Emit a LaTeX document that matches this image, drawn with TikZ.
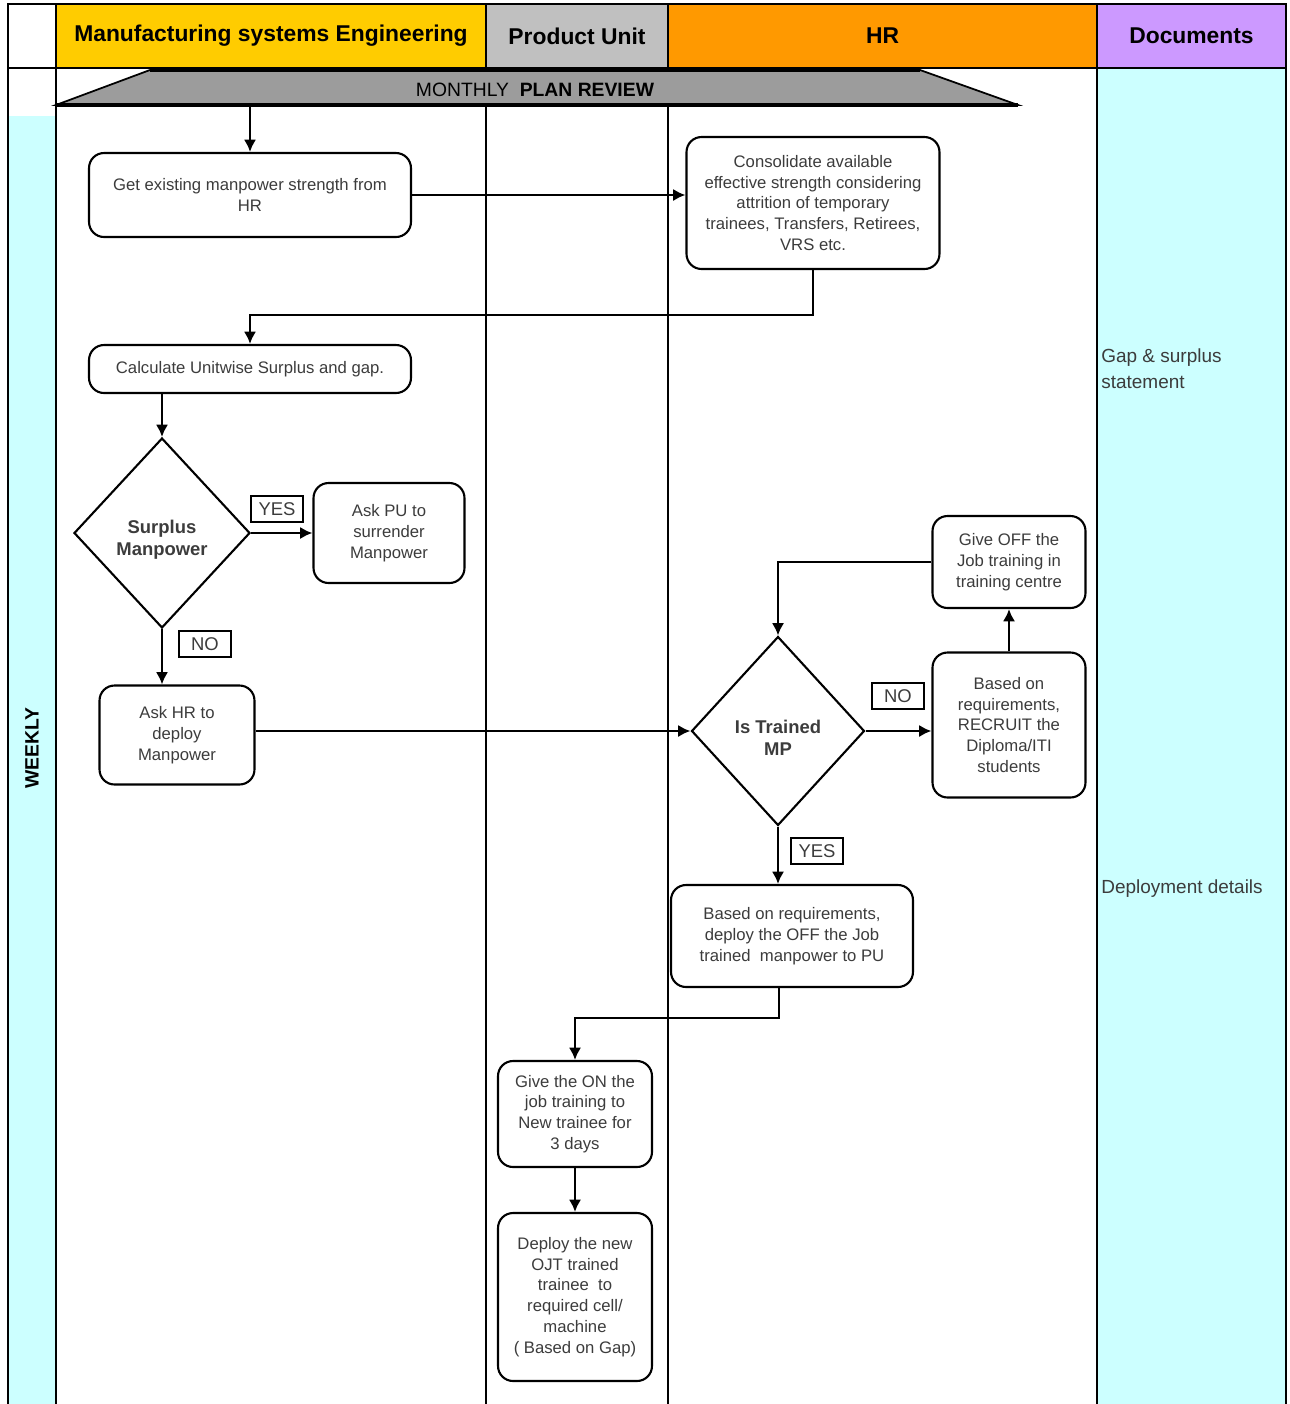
\documentclass[tikz,border=0pt]{standalone}
\usepackage{fontspec}
\setmainfont{Liberation Sans}
\usetikzlibrary{arrows.meta,positioning,shapes.geometric}
\definecolor{mseyellow}{HTML}{FFCC00}
\definecolor{pugrey}{HTML}{C0C0C0}
\definecolor{hrorange}{HTML}{FF9900}
\definecolor{docviolet}{HTML}{CC99FF}
\definecolor{laneCyan}{HTML}{CCFFFF}
\definecolor{bannergrey}{HTML}{9C9C9C}
\definecolor{boxtext}{HTML}{3C3C3C}
\tikzset{
  lanehead/.style={draw, line width=0.8pt, inner sep=0pt, font=\fontsize{13}{15}\selectfont\bfseries},
  procbox/.style={draw, line width=1.2pt, rounded corners=0.3cm, fill=white, align=center,
    inner sep=0pt, text=boxtext, font=\fontsize{9.5}{11.8}\selectfont},
  decision/.style={draw, diamond, line width=1.2pt, fill=white, align=center, inner sep=0pt,
    text=boxtext, font=\fontsize{10.5}{12.5}\selectfont\bfseries},
  answer/.style={draw, line width=1pt, fill=white, inner sep=0pt, minimum width=1.04cm,
    minimum height=0.52cm, text=boxtext, font=\fontsize{10.5}{12}\selectfont},
  doctext/.style={anchor=north west, align=left, inner sep=0pt, text=boxtext,
    font=\fontsize{10.8}{14.8}\selectfont},
  flow/.style={-{Latex[length=7pt,width=7pt]}, line width=1.4pt},
  lane/.style={line width=1pt},
}
\begin{document}
\begin{tikzpicture}[x=0.02cm, y=-0.02cm]
  \useasboundingbox (0,0) rectangle (1290,1404);

  % lanes and header
  \fill[laneCyan] (8,116) rectangle (56,1404);
  \fill[laneCyan] (1097,68) rectangle (1286,1404);
  \draw[lanehead, fill=white] (8,4) rectangle (56,68);
  \draw[lanehead, fill=mseyellow] (56,4) rectangle node {Manufacturing systems Engineering} (486,68);
  \draw[lanehead, fill=pugrey] (486,4) rectangle node {Product Unit} (668,68);
  \draw[lanehead, fill=hrorange] (668,4) rectangle node {HR} (1097,68);
  \draw[lanehead, fill=docviolet] (1097,4) rectangle node {Documents} (1286,68);
  \draw[lane] (8,68) -- (8,1404);
  \draw[lane] (56,68) -- (56,1404);
  \draw[lane] (486,68) -- (486,1404);
  \draw[lane] (668,68) -- (668,1404);
  \draw[lane] (1097,68) -- (1097,1404);
  \draw[lane] (1286,68) -- (1286,1404);
  \node[rotate=90, font=\fontsize{11}{13}\selectfont\bfseries] (weekly) at (32,748) {WEEKLY};

  % banner
  \draw[fill=bannergrey, line width=1pt] (150,70) -- (920,70) -- (1018,105) -- (56,105) -- cycle;
  \draw[line width=2pt] (150,70) -- (920,70) (56,105) -- (1018,105);
  \node[font=\fontsize{11}{13}\selectfont] (review) at (535,90) {MONTHLY\ \ \textbf{PLAN REVIEW}};
  \coordinate (reviewout) at (250,105);

  % process nodes
  \node[procbox, minimum width=6.44cm, minimum height=1.68cm] (gethr) at (250,195)
    {Get existing manpower strength from\\HR};
  \node[procbox, minimum width=5.06cm, minimum height=2.64cm] (consol) at (813,203)
    {Consolidate available\\effective strength considering\\attrition of temporary\\trainees, Transfers, Retirees,\\VRS etc.};
  \node[procbox, minimum width=6.44cm, minimum height=0.96cm] (calc) at (250,369)
    {Calculate Unitwise Surplus and gap.};
  \node[decision, minimum width=3.52cm, minimum height=3.8cm] (surplus) at (162,533)
    {\rule{0pt}{15pt}Surplus\\Manpower};
  \node[procbox, minimum width=3.02cm, minimum height=2cm] (askpu) at (389,533)
    {Ask PU to\\surrender\\Manpower};
  \node[procbox, minimum width=3.1cm, minimum height=1.98cm] (askhr) at (177,735)
    {Ask HR to\\deploy\\Manpower};
  \node[decision, minimum width=3.46cm, minimum height=3.78cm] (trained) at (778,731)
    {\rule{0pt}{15pt}Is Trained\\MP};
  \node[procbox, minimum width=3.06cm, minimum height=2.9cm] (recruit) at (1009,725)
    {Based on\\requirements,\\RECRUIT the\\Diploma/ITI\\students};
  \node[procbox, minimum width=3.06cm, minimum height=1.84cm] (giveoff) at (1009,562)
    {Give OFF the\\Job training in\\training centre};
  \node[procbox, minimum width=4.84cm, minimum height=2.04cm] (deploypu) at (792,936)
    {Based on requirements,\\deploy the OFF the Job\\trained\ \ manpower to PU};
  \node[procbox, minimum width=3.08cm, minimum height=2.12cm] (giveon) at (575,1114)
    {Give the ON the\\job training to\\New trainee for\\3 days};
  \node[procbox, minimum width=3.08cm, minimum height=3.36cm] (deployojt) at (575,1297)
    {Deploy the new\\OJT trained\\trainee\ \ to\\required cell/\\machine\\( Based on Gap)};

  % answers
  \node[answer] (yes1) at (277,509) {YES};
  \node[answer] (no1) at (205,644) {NO};
  \node[answer] (no2) at (898,696) {NO};
  \node[answer] (yes2) at (817,851) {YES};

  % documents
  \node[doctext] (gapdoc) at (1101,348) {Gap \& surplus\\statement};
  \node[doctext] (deploydoc) at (1101,879) {Deployment details};

  % connectors
  \coordinate (gapjoin) at (813,315);
  \coordinate (ojtjoin) at (779,1018);
  \draw[flow] (reviewout) -- (gethr.north);
  \draw[flow] (gethr.east) -- (gethr.east -| consol.west);
  \draw[flow] (consol.south) -- (gapjoin) -| (calc.north);
  \draw[flow] (calc.south -| surplus.north) -- (surplus.north);
  \draw[flow] (surplus.east) -- (surplus.east -| askpu.west);
  \draw[flow] (surplus.south) -- (surplus.south |- askhr.north);
  \draw[flow] (askhr.east |- trained.west) -- (trained.west);
  \draw[flow] (trained.east) -- (trained.east -| recruit.west);
  \draw[flow] (recruit.north) -- (giveoff.south);
  \draw[flow] (giveoff.west) -| (trained.north);
  \draw[flow] (trained.south) -- (trained.south |- deploypu.north);
  \draw[flow] (deploypu.south -| ojtjoin) -- (ojtjoin) -| (giveon.north);
  \draw[flow] (giveon.south) -- (deployojt.north);
\end{tikzpicture}
\end{document}
